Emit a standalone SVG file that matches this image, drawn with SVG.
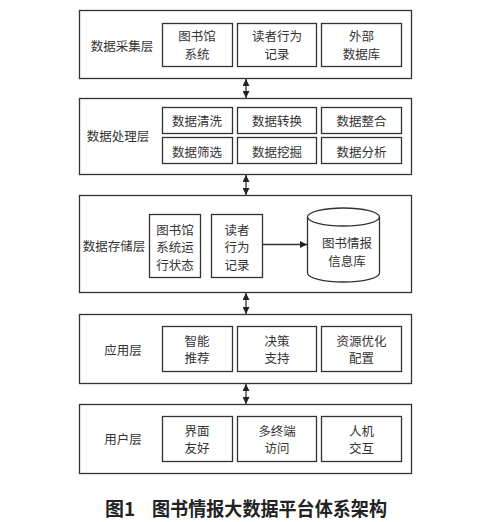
<svg xmlns="http://www.w3.org/2000/svg" width="503" height="522" viewBox="0 0 503 522">
<style>
.layer{fill:#fff;stroke:#333;stroke-width:1.3}
.box{fill:#fff;stroke:#333;stroke-width:1.3}
.t{font-family:"Noto Sans CJK SC","Noto Sans",sans-serif;font-size:12.5px;fill:#333;text-anchor:middle;dominant-baseline:central}
.cap{font-family:"Noto Sans CJK SC","Noto Sans",sans-serif;font-size:19px;font-weight:bold;fill:#222;dominant-baseline:central}
.conn{stroke:#333;stroke-width:1.3;fill:none}
</style>
<defs>
<marker id="ah" viewBox="0 0 10 10" refX="10" refY="5" markerWidth="7" markerHeight="7" markerUnits="userSpaceOnUse" orient="auto-start-reverse">
<path d="M0,0 L10,5 L0,10 z" fill="#222"/>
</marker>
</defs>
<rect width="503" height="522" fill="#fff"/>

<g id="layer1">
<rect class="layer" x="79.5" y="10.5" width="332" height="68"/>
<text class="t" x="122" y="45">数据采集层</text>
<g id="n-lib"><rect class="box" x="162.5" y="23.5" width="70" height="43"/><text class="t" x="197" y="35">图书馆</text><text class="t" x="197" y="53">系统</text></g>
<g id="n-reader"><rect class="box" x="237.5" y="23.5" width="79" height="43"/><text class="t" x="277" y="35">读者行为</text><text class="t" x="277" y="53">记录</text></g>
<g id="n-ext"><rect class="box" x="321.5" y="23.5" width="80" height="43"/><text class="t" x="361.5" y="35">外部</text><text class="t" x="361.5" y="53">数据库</text></g>
</g>

<g id="layer2">
<rect class="layer" x="79.5" y="98.5" width="332" height="76"/>
<text class="t" x="118" y="135">数据处理层</text>
<g id="n-clean"><rect class="box" x="162.5" y="107.5" width="70" height="26"/><text class="t" x="197" y="120">数据清洗</text></g>
<g id="n-trans"><rect class="box" x="237.5" y="107.5" width="79" height="26"/><text class="t" x="277" y="120">数据转换</text></g>
<g id="n-integ"><rect class="box" x="321.5" y="107.5" width="80" height="26"/><text class="t" x="361.5" y="120">数据整合</text></g>
<g id="n-filter"><rect class="box" x="162.5" y="137.5" width="70" height="26"/><text class="t" x="197" y="151">数据筛选</text></g>
<g id="n-mine"><rect class="box" x="237.5" y="137.5" width="79" height="26"/><text class="t" x="277" y="151">数据挖掘</text></g>
<g id="n-anal"><rect class="box" x="321.5" y="137.5" width="80" height="26"/><text class="t" x="361.5" y="151">数据分析</text></g>
</g>

<g id="layer3">
<rect class="layer" x="79.5" y="195.5" width="332" height="97"/>
<text class="t" x="114" y="245">数据存储层</text>
<g id="n-libstate"><rect class="box" x="149.5" y="214.5" width="51" height="63"/><text class="t" x="175" y="229">图书馆</text><text class="t" x="175" y="246.5">系统运</text><text class="t" x="175" y="264">行状态</text></g>
<g id="n-rec"><rect class="box" x="211.5" y="214.5" width="51" height="63"/><text class="t" x="237" y="229">读者</text><text class="t" x="237" y="246.5">行为</text><text class="t" x="237" y="264">记录</text></g>
<g id="n-db">
<path class="box" d="M307.5,217 A36,9 0 0 1 379.5,217 L379.5,273 A36,9 0 0 1 307.5,273 Z"/>
<path class="conn" d="M307.5,217 A36,9 0 0 0 379.5,217"/>
<text class="t" x="347" y="242">图书情报</text><text class="t" x="347" y="260">信息库</text>
</g>
</g>

<g id="layer4">
<rect class="layer" x="79.5" y="314.5" width="332" height="69"/>
<text class="t" x="123" y="349">应用层</text>
<g id="n-rec2"><rect class="box" x="162.5" y="326.5" width="70" height="45"/><text class="t" x="197" y="340">智能</text><text class="t" x="197" y="357.5">推荐</text></g>
<g id="n-dec"><rect class="box" x="237.5" y="326.5" width="79" height="45"/><text class="t" x="277" y="340">决策</text><text class="t" x="277" y="357.5">支持</text></g>
<g id="n-res"><rect class="box" x="321.5" y="326.5" width="80" height="45"/><text class="t" x="361.5" y="340">资源优化</text><text class="t" x="361.5" y="357.5">配置</text></g>
</g>

<g id="layer5">
<rect class="layer" x="79.5" y="404.5" width="332" height="69"/>
<text class="t" x="123" y="438">用户层</text>
<g id="n-ui"><rect class="box" x="162.5" y="416.5" width="70" height="45"/><text class="t" x="197" y="430">界面</text><text class="t" x="197" y="447.5">友好</text></g>
<g id="n-multi"><rect class="box" x="237.5" y="416.5" width="79" height="45"/><text class="t" x="277" y="430">多终端</text><text class="t" x="277" y="447.5">访问</text></g>
<g id="n-hci"><rect class="box" x="321.5" y="416.5" width="80" height="45"/><text class="t" x="361.5" y="430">人机</text><text class="t" x="361.5" y="447.5">交互</text></g>
</g>

<g id="connectors">
<line class="conn" x1="246" y1="79" x2="246" y2="98" marker-start="url(#ah)" marker-end="url(#ah)"/>
<line class="conn" x1="246" y1="175" x2="246" y2="195" marker-start="url(#ah)" marker-end="url(#ah)"/>
<line class="conn" x1="246" y1="293" x2="246" y2="314" marker-start="url(#ah)" marker-end="url(#ah)"/>
<line class="conn" x1="246" y1="384" x2="246" y2="404" marker-start="url(#ah)" marker-end="url(#ah)"/>
<line class="conn" x1="262" y1="244.5" x2="307" y2="244.5" marker-end="url(#ah)"/>
</g>

<text class="cap" x="105" y="507">图1</text>
<text class="cap" x="152" y="507" textLength="235" lengthAdjust="spacingAndGlyphs">图书情报大数据平台体系架构</text>
</svg>
